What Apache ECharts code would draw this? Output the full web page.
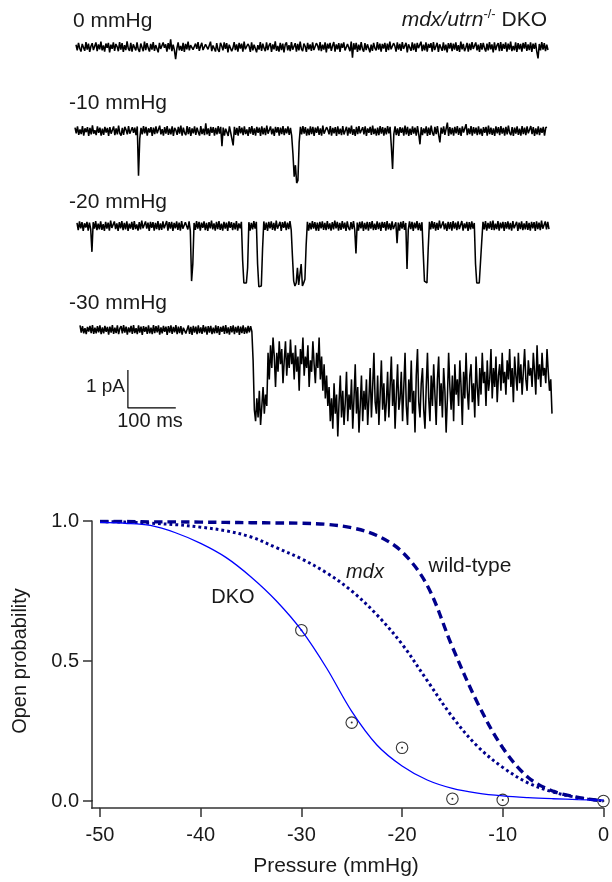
<!DOCTYPE html>
<html><head><meta charset="utf-8">
<script src="https://cdn.jsdelivr.net/npm/echarts@6/dist/echarts.min.js"></script>
<style>html,body{margin:0;padding:0;background:#fff}#c{width:612px;height:882px}</style>
</head><body><div id="c"></div>
<script>
// ---------- single-channel recordings (current in 0.01 pA, one sample every SAMPLE_MS) ----------
const SAMPLE_MS = 2.6;
const traceLabels = ['0 mmHg', '-10 mmHg', '-20 mmHg', '-30 mmHg'];
const trace0mmHg = [
 6,-9,11,-4,-12,8,3,-10,13,-7,9,-13,2,10,-8,-3,12,-11,7,
 -6,14,-9,4,-12,9,-2,11,-14,6,-5,12,-10,8,1,-11,13,-7,10,
 -13,5,-8,15,-4,-10,11,-12,7,2,-9,12,-6,-13,9,4,-11,14,-8,
 10,-3,-12,8,-7,13,-10,5,9,-14,11,-5,-9,12,-2,7,-12,10,-6,
 20,-11,6,-8,-32,-4,12,-9,3,-10,11,-13,8,-6,14,-9,5,10,-7,
 -12,9,-5,13,-10,2,11,-8,-13,7,12,-6,-9,14,-11,4,8,-12,10,
 -7,-13,11,3,-9,12,-5,10,-14,6,9,-11,-3,13,-8,7,-12,11,-4,
 9,-12,14,-6,-10,8,2,-13,12,-9,6,11,-14,5,-7,13,-10,9,-3,
 -11,12,-8,4,10,-13,7,-6,15,-10,3,-12,11,-8,9,-14,6,12,-9,
 5,-11,13,-7,-3,10,-12,8,-9,14,-5,-11,9,2,-13,11,-6,7,-10,
 12,-8,-13,10,4,-9,13,-11,6,-7,12,-14,9,-4,11,-10,3,13,-12,
 7,-6,10,-13,9,-2,12,-9,-12,8,5,-11,14,-28,10,-7,11,-13,6,
 -9,13,-5,-12,10,-8,7,12,-14,6,-10,11,-3,-9,13,-7,9,-12,8,
 -4,11,-13,9,-8,14,-6,-11,10,3,-12,12,-7,8,-10,13,-5,-9,11,
 -14,7,4,-10,12,-8,9,-13,11,-3,-7,14,-11,6,-9,12,-12,8,-2,
 10,-12,13,-8,-5,11,-13,7,2,-10,12,-9,6,-14,10,-4,11,-11,9,
 -7,12,-10,5,-13,14,-6,8,-11,-2,11,-12,9,-8,13,-5,-10,12,-9,
 6,-13,10,-7,11,-3,-12,9,-9,13,-6,7,-14,12,-8,4,10,-11,13,
 -10,8,-5,12,-12,9,-7,14,-11,3,-9,12,-13,10,-6,8,-12,11,-4,
 13,-10,7,-8,12,-13,9,-5,11,-12,-30,8,-9,13,-7,10,-11,6,-8
];
const trace10mmHg = [
 9,-6,12,-10,4,-8,13,-12,7,-3,10,-13,8,-9,15,-7,2,-11,12,
 -5,9,-12,6,-10,11,-4,8,-13,10,-7,-2,12,-11,7,-9,14,-6,-12,
 8,-10,11,3,-9,13,-7,-12,10,-5,9,-11,12,-118,-20,8,-9,13,-6,
 11,-12,7,-4,10,-13,9,-8,12,-6,-11,14,-9,5,-12,10,-7,13,-10,
 6,-9,12,-13,8,2,-10,11,-7,14,-12,9,-5,-11,13,-8,10,-13,7,
 -6,12,-10,9,-3,-12,13,-8,6,-11,20,-9,7,-13,11,-5,10,-12,8,
 -9,13,-7,11,-40,9,-12,6,10,-13,12,-4,-9,-38,11,-10,8,-12,13,
 -6,9,-11,12,-8,4,-13,10,-7,13,-10,7,-12,11,-5,9,-13,12,-9,
 8,-11,14,-7,-10,12,-9,6,-13,11,-4,10,-12,9,-8,13,-11,7,-6,
 12,-10,8,-13,-60,-120,-90,-137,-130,-30,11,-9,13,-7,10,-12,6,-11,12,
 -8,11,-13,9,-5,12,-10,7,-12,14,-7,-11,10,3,-9,13,-12,8,-6,
 10,-13,12,-8,6,-11,13,-9,-4,11,-12,9,-7,14,-10,5,-13,11,-8,
 13,-6,-11,10,-9,12,-13,7,-5,11,-10,14,-8,6,-12,9,-11,13,-7,
 10,-12,8,-9,13,-6,11,-40,-100,-8,12,-11,7,-13,10,-5,9,-12,14,
 -9,11,-13,6,-10,12,-7,9,-12,13,-8,-35,10,-11,7,-6,12,-13,9,
 -10,14,-5,-12,11,-8,13,-11,-30,9,-7,12,-10,6,22,-13,10,-9,8,
 -12,11,-6,13,-10,8,-13,12,-4,-9,18,-11,7,-8,13,-12,10,-7,9,
 -11,12,-9,6,-13,10,-5,11,-12,14,-8,9,-10,7,-13,12,-6,10,-11,
 13,-7,8,-12,11,-9,14,-5,-11,10,-13,9,-7,12,-10,6,-12,13,-8,
 9,-11,12,-6,-10,13,-8,10,-13,7,-9,12,-11,8,-5,11,-12,9,10
];
const trace20mmHg = [
 8,-11,12,-6,10,-13,7,-4,11,-12,9,-8,-68,10,-7,13,-11,6,-9,
 12,-10,5,-13,11,-7,9,-12,14,-5,-10,12,-8,7,-13,10,-6,13,-11,
 8,-9,12,-13,6,-7,11,-10,13,-8,4,-12,10,-9,14,-6,-11,12,-7,
 9,-13,11,-5,10,-12,8,-8,13,-11,7,-10,12,-6,-9,13,-12,10,-7,
 11,-13,8,-6,12,-10,9,-12,13,-7,-11,10,6,-9,12,-13,-145,-100,8,
 -10,13,-7,11,-12,9,-5,12,-11,8,-13,10,-6,14,-9,7,-12,11,-8,
 13,-10,6,-12,11,-7,9,-13,12,-5,10,-11,8,-9,13,-12,7,-6,11,
 -90,-150,-155,-150,-110,10,-12,8,-9,13,-7,11,-100,-160,-155,-158,-60,12,-10,
 9,-13,11,-6,12,-10,8,-12,14,-7,-9,11,-13,10,-5,12,-11,9,-8,
 13,-10,-80,-145,-158,-150,-110,-155,-150,-100,-158,-150,-140,-50,11,-12,8,-9,13,
 -7,10,-12,9,-13,11,-6,12,-10,8,-11,13,-8,7,-12,10,-9,14,-6,
 11,-12,8,-10,13,-7,9,-13,12,-5,-11,10,-8,13,-10,-72,9,-12,11,
 -6,12,-13,8,-9,11,-12,10,-7,13,-11,6,-10,12,-8,9,-13,11,-5,
 10,-12,13,-9,7,-11,12,-8,-13,10,-45,9,-12,11,-7,13,-10,8,-113,
 -10,12,-8,11,-13,9,-6,13,-11,8,-12,10,-70,-145,-140,-150,-60,11,-9,
 13,-7,10,-12,8,-10,14,-6,-11,12,-9,7,-13,11,-8,10,-12,13,-7,
 9,-11,12,-8,-10,13,-12,7,-6,11,-13,10,-9,12,-7,8,-100,-150,-155,
 -150,-145,-40,11,-9,13,-12,8,-7,12,-10,14,-11,6,-8,13,-12,9,-6,
 11,-13,10,-7,12,-9,8,-12,13,-6,-10,11,-13,9,-8,12,-11,7,-9,
 13,-10,8,-12,11,-6,10,-13,12,-8,9,-11,14,-7,-10,12,-9,11,-8
];
const trace30mmHg = [
 12,-7,10,-9,5,-11,8,-4,11,-8,13,-10,6,-9,10,-6,12,-11,7,
 -9,11,-5,8,-12,9,-7,13,-10,6,-8,12,-11,4,10,-9,13,-7,9,
 -12,7,-6,11,-10,13,-8,5,-11,12,-7,9,-13,10,-5,8,-10,12,-9,
 6,-11,13,-8,10,-6,12,-12,7,-9,11,-5,9,-13,10,-7,12,-10,8,
 -6,13,-11,9,-8,10,-12,6,11,-9,-5,12,-10,8,-13,11,-7,9,-11,
 12,-8,7,-10,13,-6,9,-12,10,-7,11,-11,6,-9,12,-8,10,-13,8,
 -5,11,-10,13,-9,7,-12,10,-6,12,-11,8,-7,11,-13,9,-8,12,-10,
 7,-9,11,-6,10,-4,-80,-210,-240,-180,-230,-160,-250,-200,-150,-220,-170,-200,-60,
 -130,-40,-100,-20,-70,-150,-60,-110,-30,-90,-50,-140,-80,-30,-120,-60,-100,-25,-90,
 -60,-130,-40,-110,-70,-160,-50,-90,-20,-120,-70,-100,-40,-150,-80,-110,-30,-90,-140,
 -60,-100,-20,-130,-70,-160,-90,-180,-120,-200,-150,-240,-180,-260,-140,-220,-170,-280,-190,
 -120,-230,-160,-250,-190,-110,-240,-170,-210,-130,-260,-180,-90,-220,-150,-270,-200,-120,-240,
 -160,-210,-130,-250,-180,-100,-230,-150,-60,-190,-220,-120,-250,-170,-80,-210,-140,-240,-190,
 -110,-230,-150,-70,-200,-130,-260,-170,-90,-210,-180,-110,-240,-150,-60,-200,-250,-130,-190,
 -80,-220,-160,-270,-120,-50,-190,-230,-140,-100,-210,-260,-150,-60,-180,-240,-120,-200,-90,
 -170,-250,-130,-70,-200,-140,-230,-100,-160,-270,-180,-60,-150,-210,-120,-240,-90,-170,-130,
 -200,-80,-150,-250,-110,-180,-60,-160,-210,-120,-90,-190,-140,-230,-70,-150,-200,-100,-170,
 -60,-140,-110,-200,-80,-160,-130,-50,-180,-100,-150,-70,-190,-120,-90,-160,-60,-140,-110,
 -170,-80,-130,-50,-150,-100,-190,-70,-120,-160,-60,-140,-90,-170,-110,-50,-130,-160,-80,
 -120,-100,-150,-60,-110,-170,-40,-130,-90,-150,-60,-120,-100,-140,-50,-110,-160,-130,-220
];
const scaleBarMs = 100;      // 100 ms
const scaleBarCurrent = 100; // 1 pA in 0.01 pA units

// ---------- open probability vs pressure ----------
const fitPressure = [-50,-47.5,-45,-42.5,-40,-37.5,-35,-32.5,-30,-27.5,-25,-22.5,-20,-17.5,-15,-12.5,-10,-7.5,-5,-2.5,0];
const poDKOfit = [0.995,0.992,0.984,0.958,0.92,0.87,0.80,0.715,0.61,0.475,0.32,0.20,0.125,0.075,0.045,0.028,0.018,0.012,0.008,0.005,0.003];
const poMdxFit = [0.998,0.996,0.992,0.987,0.978,0.965,0.943,0.905,0.865,0.815,0.75,0.665,0.56,0.43,0.30,0.195,0.12,0.065,0.032,0.012,0.0];
const poWTfit  = [0.998,0.998,0.997,0.997,0.996,0.995,0.994,0.993,0.992,0.988,0.976,0.948,0.89,0.77,0.55,0.35,0.19,0.085,0.035,0.013,0.0];
const dkoPressure = [-30,-25,-20,-15,-10,0];
const dkoPo = [0.61,0.28,0.19,0.008,0.004,0.0];

// ---------- build ----------
const FONT = '"Liberation Sans", Arial, Helvetica, sans-serif';
const TXT = '#1a1a1a';
const traces = [trace0mmHg, trace10mmHg, trace20mmHg, trace30mmHg];
const traceMs = (trace0mmHg.length - 1) * SAMPLE_MS;
const traceGrids = [
  {left: 76, top: 9,   height: 76,  ymin: -100, ymax: 100},
  {left: 75, top: 93,  height: 114, ymin: -200, ymax: 100},
  {left: 77, top: 188, height: 114, ymin: -200, ymax: 100},
  {left: 80, top: 292, height: 152, ymin: -300, ymax: 100}
];
const grid = [], xAxis = [], yAxis = [], series = [];
traceGrids.forEach((g, k) => {
  grid.push({left: g.left, top: g.top, width: 472, height: g.height});
  xAxis.push({type: 'value', gridIndex: k, min: 0, max: traceMs, show: false});
  yAxis.push({type: 'value', gridIndex: k, min: g.ymin, max: g.ymax, show: false});
  series.push({
    type: 'line', xAxisIndex: k, yAxisIndex: k, symbol: 'none', sampling: false,
    clip: false, silent: true,
    lineStyle: {color: '#000', width: 1.55},
    data: traces[k].map((v, i) => [i * SAMPLE_MS, v])
  });
});
// scale bar in the -30 mmHg panel
const sbT = 100, sbV = -105;
series.push({
  type: 'line', xAxisIndex: 3, yAxisIndex: 3, symbol: 'none', silent: true, clip: false,
  lineStyle: {color: '#000', width: 1.2},
  data: [[sbT, sbV], [sbT, sbV - scaleBarCurrent], [sbT + scaleBarMs, sbV - scaleBarCurrent]]
});

// lower chart
grid.push({left: 100, top: 521, width: 505, height: 280});
xAxis.push({
  type: 'value', gridIndex: 4, min: -50, max: 0, interval: 10, offset: 7,
  axisLine: {onZero: false, lineStyle: {color: '#333', width: 1.5}},
  axisTick: {length: 9, lineStyle: {color: '#333', width: 1.5}},
  axisLabel: {color: TXT, fontSize: 20, fontFamily: FONT, margin: 17},
  splitLine: {show: false}
});
yAxis.push({
  type: 'value', gridIndex: 4, min: 0, max: 1, interval: 0.5, offset: 8, position: 'left',
  axisLine: {show: true, onZero: false, lineStyle: {color: '#333', width: 1.5}},
  axisTick: {show: true, length: 9, lineStyle: {color: '#333', width: 1.5}},
  axisLabel: {color: TXT, fontSize: 20, fontFamily: FONT, margin: 13, formatter: v => v.toFixed(1)},
  splitLine: {show: false}
});
const zip = (xs, ys) => xs.map((x, i) => [x, ys[i]]);
series.push({
  name: 'wild-type', type: 'line', xAxisIndex: 4, yAxisIndex: 4, symbol: 'none', smooth: 0.35,
  lineStyle: {color: '#00008c', width: 3.4, type: [8.5, 5]}, data: zip(fitPressure, poWTfit)
});
series.push({
  name: 'mdx', type: 'line', xAxisIndex: 4, yAxisIndex: 4, symbol: 'none', smooth: 0.35,
  lineStyle: {color: '#00008c', width: 3, type: [2.8, 3]}, data: zip(fitPressure, poMdxFit)
});
series.push({
  name: 'DKO', type: 'line', xAxisIndex: 4, yAxisIndex: 4, symbol: 'none', smooth: 0.35,
  lineStyle: {color: '#0000ff', width: 1.3}, data: zip(fitPressure, poDKOfit)
});
series.push({
  type: 'scatter', xAxisIndex: 4, yAxisIndex: 4, symbol: 'circle', symbolSize: 11.5, silent: true,
  itemStyle: {color: 'rgba(0,0,0,0)', borderColor: '#000', borderWidth: 1.1}, data: zip(dkoPressure, dkoPo)
});
series.push({
  type: 'scatter', xAxisIndex: 4, yAxisIndex: 4, symbol: 'circle', symbolSize: 2, silent: true,
  itemStyle: {color: '#000'}, data: zip(dkoPressure, dkoPo)
});

function txt(text, x, y, opts) {
  return Object.assign({type: 'text', x: x, y: y, silent: true,
    style: Object.assign({text: text, fill: TXT, font: '20px ' + FONT, align: 'left', verticalAlign: 'middle'}, opts || {})});
}
const graphic = [
  txt(traceLabels[0], 73, 21, {font: '21px ' + FONT}),
  txt(traceLabels[1], 69, 103, {font: '21px ' + FONT}),
  txt(traceLabels[2], 69, 202, {font: '21px ' + FONT}),
  txt(traceLabels[3], 69, 303, {font: '21px ' + FONT}),
  {type: 'text', x: 547, y: 20, silent: true, style: {
    text: '{i|mdx/utrn}{s|-/-}{n| DKO}', align: 'right', verticalAlign: 'middle', fill: TXT,
    rich: {
      i: {fontFamily: FONT, fontSize: 21, fontStyle: 'italic', fill: TXT, lineHeight: 24},
      s: {fontFamily: FONT, fontSize: 13, fill: TXT, lineHeight: 24, verticalAlign: 'top', padding: [0, 0, 10, 0]},
      n: {fontFamily: FONT, fontSize: 21, fill: TXT, lineHeight: 24}
    }}},
  txt('1 pA', 125, 387, {font: '19px ' + FONT, align: 'right'}),
  txt('100 ms', 150, 421, {font: '20px ' + FONT, align: 'center'}),
  txt('DKO', 233, 597, {align: 'center'}),
  txt('mdx', 365, 572, {align: 'center', font: 'italic 20px ' + FONT}),
  txt('wild-type', 470, 566, {align: 'center', font: '21px ' + FONT}),
  Object.assign(txt('Open probability', 20, 661, {align: 'center'}), {rotation: Math.PI / 2}),
  txt('Pressure (mmHg)', 336, 866, {align: 'center', font: '21px ' + FONT}),
  {type: 'line', silent: true, shape: {x1: 92, y1: 800, x2: 92, y2: 808.75}, style: {stroke: '#333', lineWidth: 1.5}},
  {type: 'line', silent: true, shape: {x1: 91.25, y1: 808, x2: 100, y2: 808}, style: {stroke: '#333', lineWidth: 1.5}}
];

const chart = echarts.init(document.getElementById('c'), null, {renderer: 'canvas'});
chart.setOption({animation: false, backgroundColor: '#fff', grid, xAxis, yAxis, series, graphic});
</script></body></html>
